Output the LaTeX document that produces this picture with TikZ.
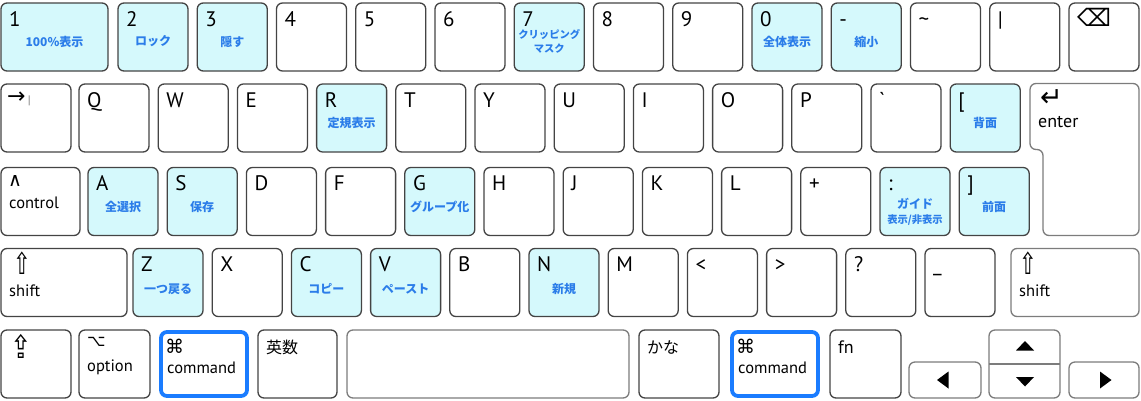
\documentclass[tikz,border=0pt]{standalone}
\usepackage{fontspec}
\usepackage{tikz}
\setmainfont{PT Sans}
\newfontfamily\jpfont{Noto Sans CJK JP}
\newfontfamily\symfont{DejaVu Sans}

\definecolor{keyline}{HTML}{444444}
\definecolor{keygray}{HTML}{7C7C7C}
\definecolor{hotfill}{HTML}{D5F9FC}
\definecolor{hotblue}{HTML}{2B7DE9}
\definecolor{cmdblue}{HTML}{1A7CFF}

\tikzset{
        keyshape/.style={draw=keyline, fill=white, line width=1.3pt, rounded corners=6pt},
        keycap/.style={keyshape, anchor=north west, inner sep=0pt, outer sep=0pt,
                minimum width=70pt, minimum height=68pt},
        plainkey/.style={keycap},
        hotkey/.style={keycap, fill=hotfill},
        graykey/.style={keycap, draw=keygray},
        cmdkey/.style={keycap, draw=cmdblue, line width=3.8pt},
        keylab/.style={anchor=base west, inner sep=0pt, font=\fontsize{21}{24}\selectfont},
        wordlab/.style={anchor=base west, inner sep=0pt, font=\fontsize{16.5}{19}\selectfont},
        symlab/.style={anchor=base west, inner sep=0pt, font=\symfont\fontsize{20}{22}\selectfont},
        jplab/.style={inner sep=0pt, text=hotblue, font=\jpfont\bfseries\fontsize{12}{14}\selectfont},
        jpsmall/.style={jplab, font=\jpfont\bfseries\fontsize{10.3}{12}\selectfont},
        arrowtip/.style={fill=black}
}

\begin{document}
\begin{tikzpicture}[x=1pt, y=-1pt]
        \useasboundingbox (0,0) rectangle (1141,400);

        \node[hotkey, minimum width=107pt] (one) at (1,3) {};
        \node[keylab] at ([xshift=8pt, yshift=-23pt]one.north west) {1};
        \node[jplab] at ([yshift=-38.5pt]one.north) {100\%表示};
        \foreach \lab/\jp/\sty [count=\i from 0] in {2/ロック/hotkey, 3/隠す/hotkey, 4//plainkey,
                5//plainkey, 6//plainkey, 7//hotkey, 8//plainkey, 9//plainkey, 0/全体表示/hotkey,
                -/縮小/hotkey, \textasciitilde//plainkey, |//plainkey, {\symfont\fontsize{24}{26}\selectfont ⌫}//plainkey}{
                \node[\sty] (top\i) at (118+79.25*\i, 3) {};
                \node[keylab] at ([xshift=8pt, yshift=-23pt]top\i.north west) {\lab};
                \node[jplab] at ([yshift=-38.5pt]top\i.north) {\jp};
        }
        \node[jpsmall] at ([yshift=-32pt]top5.north) {クリッピング};
        \node[jpsmall] at ([yshift=-46pt]top5.north) {マスク};

        \node[plainkey] (tab) at (1,84) {};
        \node[symlab, font=\symfont\fontsize{22}{24}\selectfont] at ([xshift=6pt, yshift=-19pt]tab.north west)
                {→\hspace{2pt}\textcolor{keygray}{\fontsize{10}{10}\selectfont|}};
        \foreach \lab/\jp/\sty [count=\i from 0] in {Q//plainkey, W//plainkey, E//plainkey,
                R/定規表示/hotkey, T//plainkey, Y//plainkey, U//plainkey, I//plainkey, O//plainkey,
                P//plainkey, \textasciigrave//plainkey, {[}/背面/hotkey}{
                \node[\sty] (upper\i) at (79+79.2*\i, 84) {};
                \node[keylab] at ([xshift=8pt, yshift=-23pt]upper\i.north west) {\lab};
                \node[jplab] at ([yshift=-38.5pt]upper\i.north) {\jp};
        }
        \draw[keyshape, draw=keygray] (1043,235.5) -- (1043,149.5) -- (1030,149.5) -- (1030,83.5)
                -- (1139,83.5) -- (1139,235.5) -- cycle;
        \coordinate (enter) at (1030,83.5);
        \node[symlab, font=\symfont\fontsize{27}{28}\selectfont] at ([xshift=10pt, yshift=-22.5pt]enter) {↵};
        \node[wordlab, font=\fontsize{18}{20}\selectfont] at ([xshift=8pt, yshift=-44pt]enter) {enter};

        \node[plainkey, minimum width=79pt] (ctrl) at (1,167.5) {};
        \node[symlab, font=\symfont\fontsize{19}{20}\selectfont] at ([xshift=7pt, yshift=-18.5pt]ctrl.north west) {∧};
        \node[wordlab] at ([xshift=8pt, yshift=-41pt]ctrl.north west) {control};
        \foreach \lab/\jp/\sty [count=\i from 0] in {A/全選択/hotkey, S/保存/hotkey, D//plainkey,
                F//plainkey, G/グループ化/hotkey, H//plainkey, J//plainkey, K//plainkey, L//plainkey,
                +//plainkey, ://hotkey, {]}/前面/hotkey}{
                \node[\sty] (home\i) at (88+79.2*\i, 167.5) {};
                \node[keylab] at ([xshift=8pt, yshift=-23pt]home\i.north west) {\lab};
                \node[jplab] at ([yshift=-39pt]home\i.north) {\jp};
        }
        \node[jplab] at ([yshift=-36pt]home10.north) {ガイド};
        \node[jpsmall] at ([yshift=-53pt]home10.north) {表示/非表示};

        \node[plainkey, minimum width=126pt] (lshift) at (1,248.5) {};
        \node[symlab, font=\symfont\fontsize{30}{32}\selectfont] at ([xshift=12pt, yshift=-26pt]lshift.north west)
                {\scalebox{0.7}[1]{⇧}};
        \node[wordlab] at ([xshift=8pt, yshift=-48pt]lshift.north west) {shift};
        \foreach \lab/\jp/\sty [count=\i from 0] in {Z/一つ戻る/hotkey, X//plainkey, C/コピー/hotkey,
                V/ペースト/hotkey, B//plainkey, N/新規/hotkey, M//plainkey, <//plainkey, >//plainkey,
                ?//plainkey, \_//plainkey}{
                \node[\sty] (lower\i) at (133+79.2*\i, 248.5) {};
                \node[keylab] at ([xshift=8pt, yshift=-23pt]lower\i.north west) {\lab};
                \node[jplab] at ([yshift=-40.5pt]lower\i.north) {\jp};
        }
        \node[graykey, minimum width=128pt] (rshift) at (1011,248.5) {};
        \node[symlab, font=\symfont\fontsize{30}{32}\selectfont] at ([xshift=8pt, yshift=-26pt]rshift.north west)
                {\scalebox{0.7}[1]{⇧}};
        \node[wordlab] at ([xshift=8pt, yshift=-48pt]rshift.north west) {shift};

        \node[plainkey] (caps) at (1,330) {};
        \node[symlab, font=\symfont\fontsize{32}{34}\selectfont] at ([xshift=9pt, yshift=-28pt]caps.north west)
                {\scalebox{0.8}[1]{⇪}};
        \node[plainkey, minimum width=71pt] (opt) at (79,330) {};
        \node[symlab, font=\symfont\fontsize{16}{18}\selectfont] at ([xshift=8pt, yshift=-16pt]opt.north west) {⌥};
        \node[wordlab] at ([xshift=8pt, yshift=-41.5pt]opt.north west) {option};
        \node[cmdkey, minimum width=86pt, minimum height=64pt] (lcmd) at (161,332) {};
        \node[symlab, font=\symfont\fontsize{19}{20}\selectfont] at ([xshift=4pt, yshift=-21pt]lcmd.north west) {⌘};
        \node[wordlab] at ([xshift=6pt, yshift=-41.5pt]lcmd.north west) {command};
        \node[plainkey, minimum width=79pt] (eisu) at (258,330) {};
        \node[keylab, font=\jpfont\fontsize{16}{18}\selectfont] at ([xshift=8pt, yshift=-23pt]eisu.north west) {英数};
        \node[graykey, minimum width=282pt] (space) at (347,330) {};
        \node[plainkey, minimum width=80pt] (kana) at (639,330) {};
        \node[keylab, font=\jpfont\fontsize{16}{18}\selectfont] at ([xshift=8pt, yshift=-23pt]kana.north west) {かな};
        \node[cmdkey, minimum width=86pt, minimum height=64pt] (rcmd) at (732,332) {};
        \node[symlab, font=\symfont\fontsize{19}{20}\selectfont] at ([xshift=4pt, yshift=-21pt]rcmd.north west) {⌘};
        \node[wordlab] at ([xshift=6pt, yshift=-41.5pt]rcmd.north west) {command};
        \node[plainkey, minimum width=71pt] (fn) at (830,330) {};
        \node[wordlab, font=\fontsize{18}{20}\selectfont] at ([xshift=8pt, yshift=-23.5pt]fn.north west) {fn};

        \node[graykey, minimum width=72pt, minimum height=36pt] (left) at (909,362) {};
        \node[graykey, minimum width=71pt] (updown) at (989,330) {};
        \draw[keygray, line width=1.3pt] (updown.west) -- (updown.east);
        \node[graykey, minimum height=36pt] (right) at (1069,362) {};
        \fill[arrowtip] (1016,350.5) -- (1034,350.5) -- (1025,341) -- cycle;
        \fill[arrowtip] (1016,377) -- (1034,377) -- (1025,386.5) -- cycle;
        \fill[arrowtip] (948.5,371.5) -- (948.5,388.5) -- (937,380) -- cycle;
        \fill[arrowtip] (1100,371.5) -- (1100,388.5) -- (1111.5,380) -- cycle;
\end{tikzpicture}
\end{document}
